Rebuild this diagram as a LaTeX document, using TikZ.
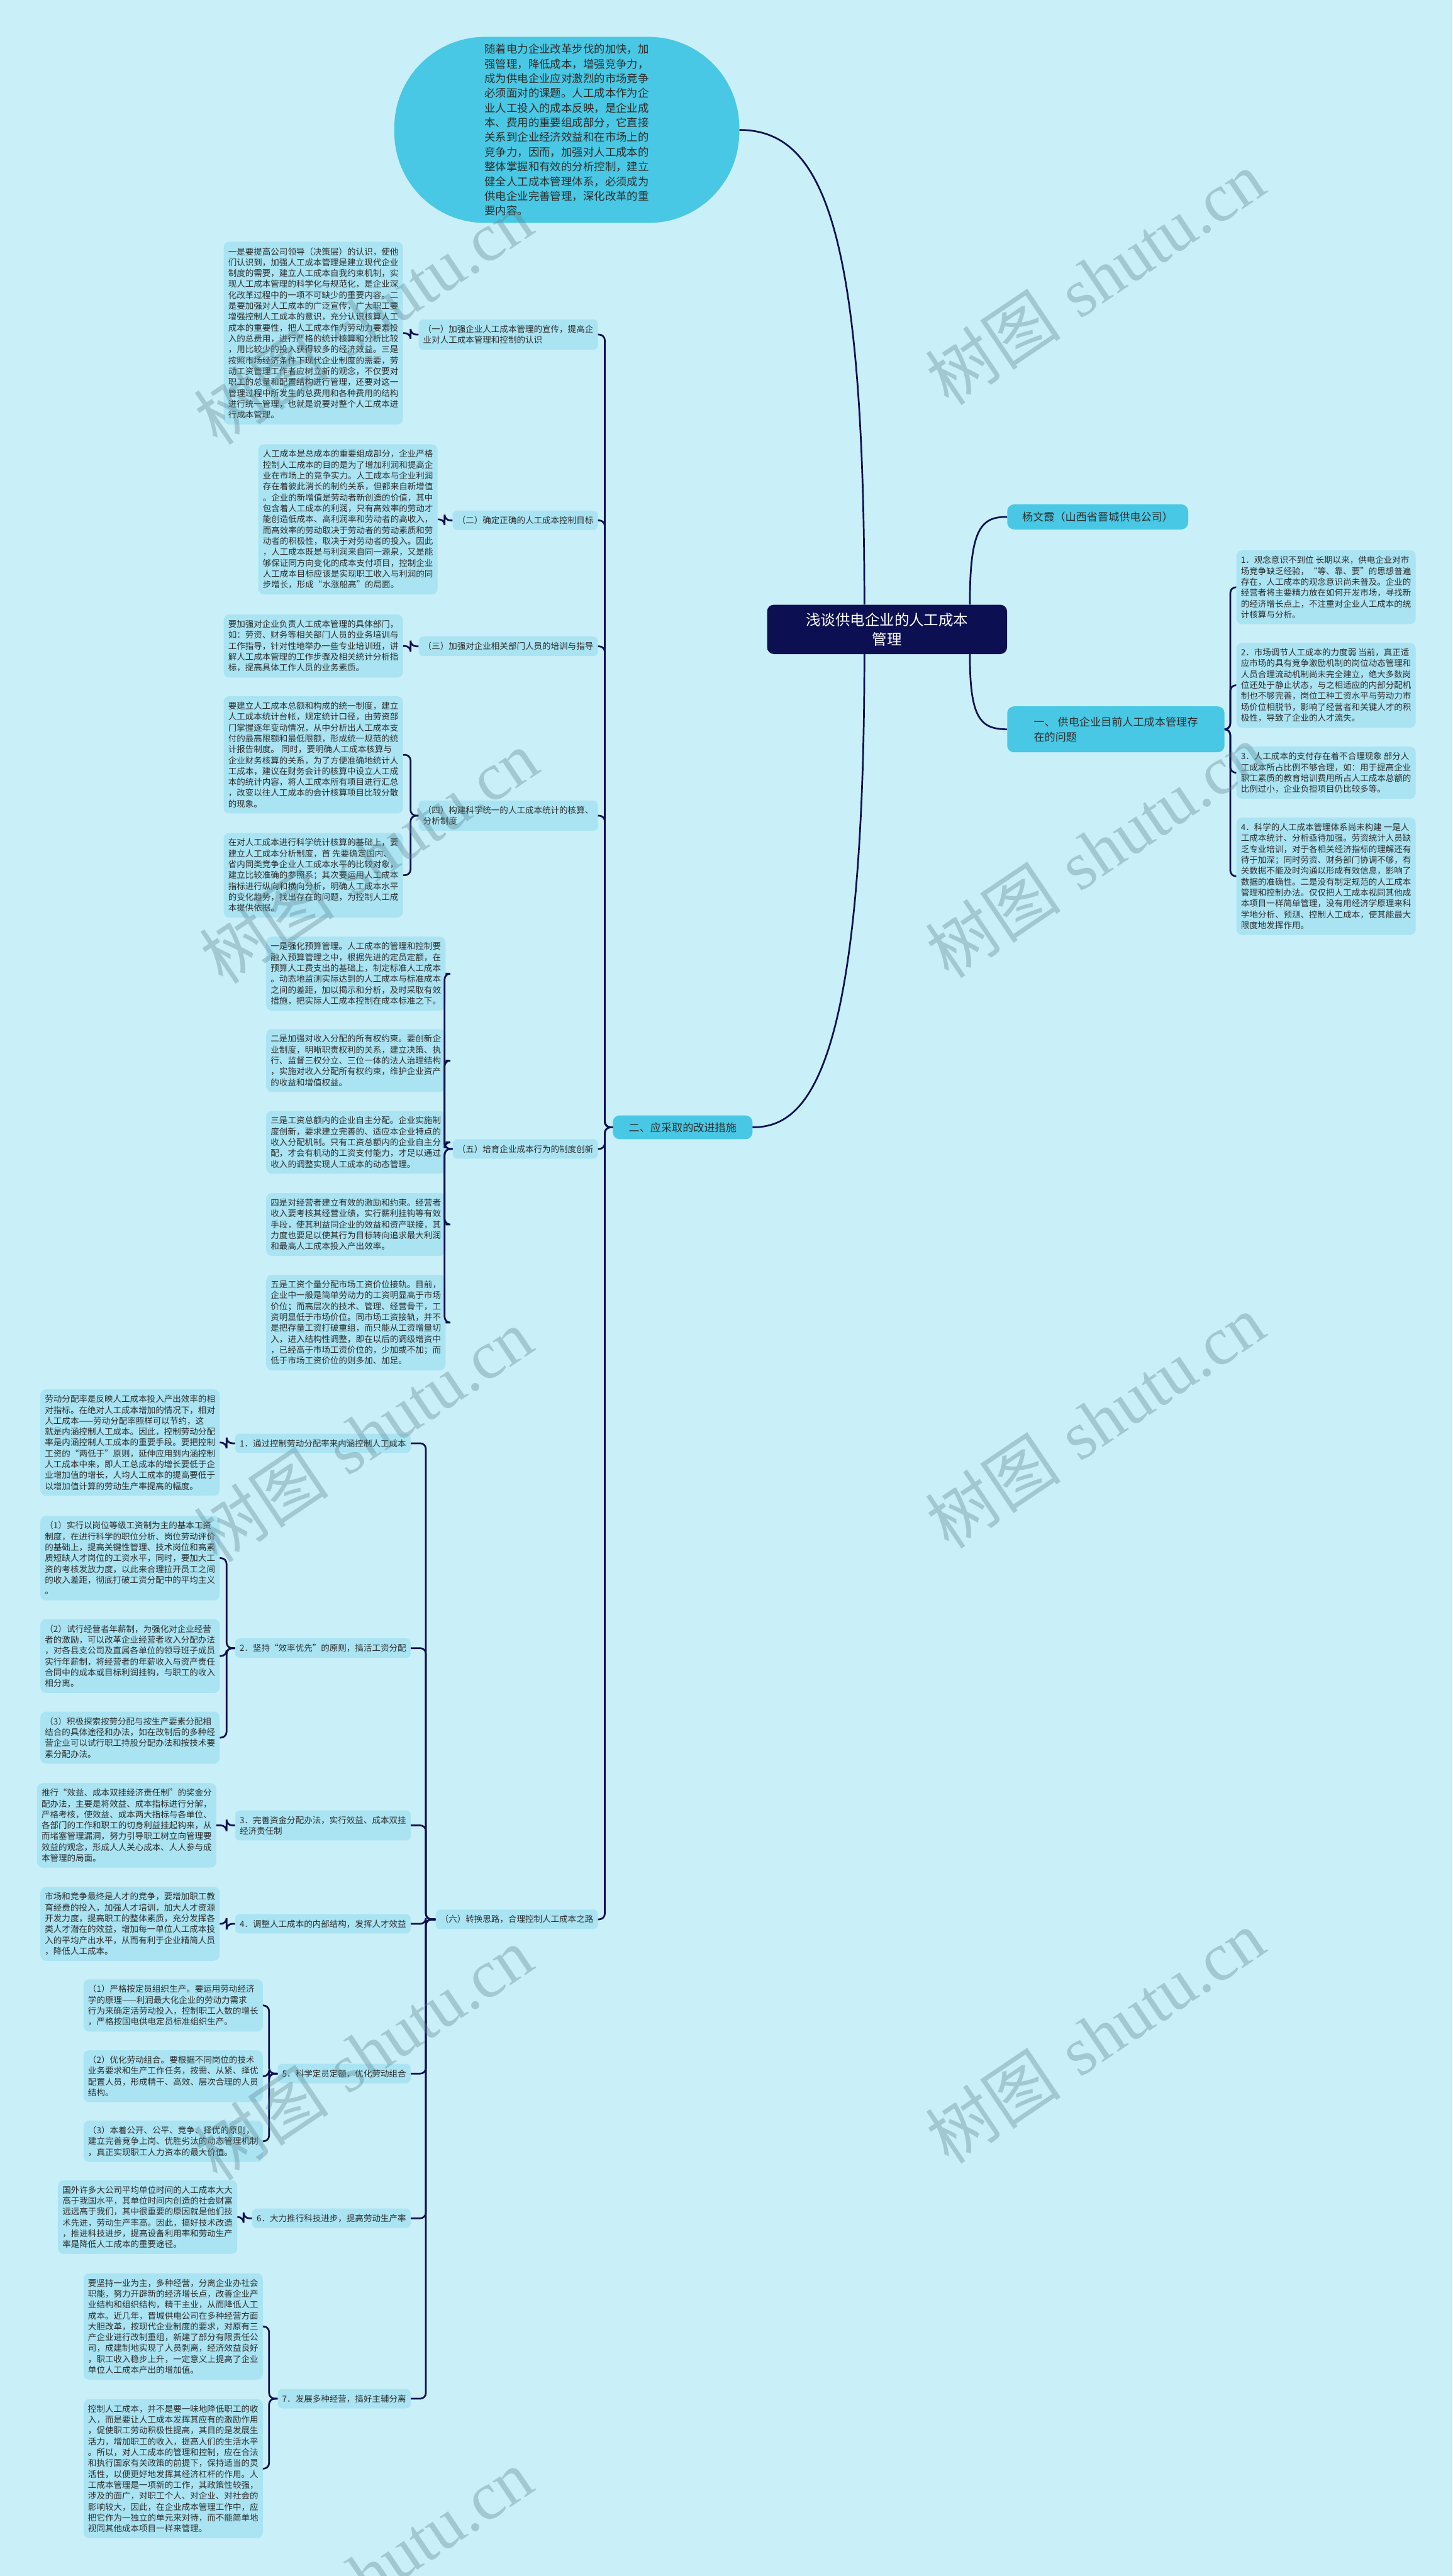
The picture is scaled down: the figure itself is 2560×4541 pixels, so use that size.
\documentclass[tikz,border=0pt]{standalone}
\usepackage{fontspec}
\newfontfamily\cjk{Noto Sans CJK SC}
\newfontfamily\wmserif{Liberation Serif}
\usetikzlibrary{calc}
\definecolor{bgc}{RGB}{201,239,248}
\definecolor{leafc}{RGB}{170,228,243}
\definecolor{cyanc}{RGB}{72,200,228}
\definecolor{navy}{RGB}{12,16,82}
\definecolor{txt}{RGB}{45,45,45}
\definecolor{wmc}{RGB}{90,130,140}
\begin{document}
\begin{tikzpicture}[x=1pt,y=-1pt,
 leaf/.style={fill=leafc, rounded corners=10pt, inner xsep=8pt, inner ysep=10pt, align=left, anchor=north west, font=\cjk\fontsize{15}{19.2}\selectfont, text=txt, minimum width=316pt},
 lab/.style={fill=leafc, rounded corners=8pt, inner xsep=8pt, inner ysep=10pt, align=left, anchor=north east, font=\cjk\fontsize{15}{19.2}\selectfont, text=txt},
 main/.style={fill=cyanc, rounded corners=12pt, inner xsep=14pt, inner ysep=12pt, align=left, font=\cjk\fontsize{19}{26}\selectfont, text=txt},
 conn/.style={draw=navy, line width=3pt, rounded corners=10pt},
 curve/.style={draw=navy, line width=3pt},
 wm/.style={text=wmc, opacity=0.35, rotate=34, font=\fontsize{120}{130}\selectfont}
]
\fill[bgc] (0,0) rectangle (2560,4541);
\useasboundingbox (0,0) rectangle (2560,4541);

% root and first level
\node[fill=navy, rounded corners=12pt, minimum width=423pt, minimum height=87pt, align=center, text=white, font=\cjk\fontsize{26}{34}\selectfont] (root) at (1563.5,1109.5) {浅谈供电企业的人工成本\\管理};

\node[fill=cyanc, rounded corners=160pt, minimum width=608pt, minimum height=328pt, align=left, text=txt, font=\cjk\fontsize{19.3}{25.9}\selectfont] (intro) at (999,229) {随着电力企业改革步伐的加快，加\\强管理，降低成本，增强竞争力，\\成为供电企业应对激烈的市场竞争\\必须面对的课题。人工成本作为企\\业人工投入的成本反映，是企业成\\本、费用的重要组成部分，它直接\\关系到企业经济效益和在市场上的\\竞争力，因而，加强对人工成本的\\整体掌握和有效的分析控制，建立\\健全人工成本管理体系，必须成为\\供电企业完善管理，深化改革的重\\要内容。};

\node[main, anchor=north west, minimum width=319pt, minimum height=44pt] (yang) at (1775,889) {杨文霞（山西省晋城供电公司）};
\node[main, anchor=north west, minimum width=383pt, minimum height=81pt] (yi) at (1775,1245) {一、 供电企业目前人工成本管理存\\在的问题};
\node[main, anchor=north west, minimum width=246pt, minimum height=42pt] (er) at (1080,1966) {二、应采取的改进措施};

\draw[curve] ($(root.north)+(-40,0)$) .. controls (1523,400) and (1450,229) .. (intro.east);
\draw[curve] ($(root.north)+(146,0)$) .. controls (1709,930) and (1730,911) .. (yang.west);
\draw[curve] ($(root.south)+(146,0)$) .. controls (1709,1270) and (1730,1285) .. (yi.west);
\draw[curve] ($(root.south)+(-40,0)$) .. controls (1523,1900) and (1420,1987) .. (er.east);

% right side leaves
\node[leaf] (R1) at (2179,970) {1．观念意识不到位 长期以来，供电企业对市\\场竞争缺乏经验，“等、靠、要”的思想普遍\\存在，人工成本的观念意识尚未普及。企业的\\经营者将主要精力放在如何开发市场，寻找新\\的经济增长点上，不注重对企业人工成本的统\\计核算与分析。};
\node[leaf] (R2) at (2179,1133) {2．市场调节人工成本的力度弱 当前，真正适\\应市场的具有竞争激励机制的岗位动态管理和\\人员合理流动机制尚未完全建立，绝大多数岗\\位还处于静止状态，与之相适应的内部分配机\\制也不够完善，岗位工种工资水平与劳动力市\\场价位相脱节，影响了经营者和关键人才的积\\极性，导致了企业的人才流失。};
\node[leaf] (R3) at (2179,1316) {3．人工成本的支付存在着不合理现象 部分人\\工成本所占比例不够合理，如：用于提高企业\\职工素质的教育培训费用所占人工成本总额的\\比例过小，企业负担项目仍比较多等。};
\node[leaf] (R4) at (2179,1441) {4．科学的人工成本管理体系尚未构建 一是人\\工成本统计、分析亟待加强。劳资统计人员缺\\乏专业培训，对于各相关经济指标的理解还有\\待于加深；同时劳资、财务部门协调不够，有\\关数据不能及时沟通以形成有效信息，影响了\\数据的准确性。二是没有制定规范的人工成本\\管理和控制办法。仅仅把人工成本视同其他成\\本项目一样简单管理，没有用经济学原理来科\\学地分析、预测、控制人工成本，使其能最大\\限度地发挥作用。};
\foreach \r in {R1,R2,R3,R4} \draw[conn] (yi.east) -- ++(10,0) |- (\r.west);

% second-level labels of 二
\node[lab] (p1) at (1054,563) {（一）加强企业人工成本管理的宣传，提高企\\业对人工成本管理和控制的认识};
\node[lab] (p2) at (1054,900) {（二）确定正确的人工成本控制目标};
\node[lab] (p3) at (1054,1122) {（三）加强对企业相关部门人员的培训与指导};
\node[lab] (p4) at (1054,1411) {（四）构建科学统一的人工成本统计的核算、\\分析制度};
\node[lab] (p5) at (1054,2008) {（五）培育企业成本行为的制度创新};
\node[lab] (p6) at (1054,3366) {（六）转换思路，合理控制人工成本之路};
\foreach \p in {p1,p2,p3,p4,p5,p6} \draw[conn] (er.west) -- ++(-14,0) |- (\p.east);

% leaves of (一)-(五)
\node[leaf] (L1) at (394,426) {一是要提高公司领导（决策层）的认识，使他\\们认识到，加强人工成本管理是建立现代企业\\制度的需要，建立人工成本自我约束机制，实\\现人工成本管理的科学化与规范化，是企业深\\化改革过程中的一项不可缺少的重要内容。二\\是要加强对人工成本的广泛宣传，广大职工要\\增强控制人工成本的意识，充分认识核算人工\\成本的重要性，把人工成本作为劳动力要素投\\入的总费用，进行严格的统计核算和分析比较\\，用比较少的投入获得较多的经济效益。三是\\按照市场经济条件下现代企业制度的需要，劳\\动工资管理工作者应树立新的观念，不仅要对\\职工的总量和配置结构进行管理，还要对这一\\管理过程中所发生的总费用和各种费用的结构\\进行统一管理，也就是说要对整个人工成本进\\行成本管理。};
\node[leaf] (L2) at (455,783) {人工成本是总成本的重要组成部分，企业严格\\控制人工成本的目的是为了增加利润和提高企\\业在市场上的竞争实力。人工成本与企业利润\\存在着彼此消长的制约关系，但都来自新增值\\。企业的新增值是劳动者新创造的价值，其中\\包含着人工成本的利润，只有高效率的劳动才\\能创造低成本、高利润率和劳动者的高收入，\\而高效率的劳动取决于劳动者的劳动素质和劳\\动者的积极性，取决于对劳动者的投入。因此\\，人工成本既是与利润来自同一源泉，又是能\\够保证同方向变化的成本支付项目，控制企业\\人工成本目标应该是实现职工收入与利润的同\\步增长，形成“水涨船高”的局面。};
\node[leaf] (L3) at (394,1083) {要加强对企业负责人工成本管理的具体部门，\\如：劳资、财务等相关部门人员的业务培训与\\工作指导，针对性地举办一些专业培训班，讲\\解人工成本管理的工作步骤及相关统计分析指\\标，提高具体工作人员的业务素质。};
\node[leaf] (L4a) at (394,1227) {要建立人工成本总额和构成的统一制度，建立\\人工成本统计台帐，规定统计口径，由劳资部\\门掌握逐年变动情况，从中分析出人工成本支\\付的最高限额和最低限额，形成统一规范的统\\计报告制度。 同时，要明确人工成本核算与\\企业财务核算的关系，为了方便准确地统计人\\工成本，建议在财务会计的核算中设立人工成\\本的统计内容，将人工成本所有项目进行汇总\\，改变以往人工成本的会计核算项目比较分散\\的现象。};
\node[leaf] (L4b) at (394,1468) {在对人工成本进行科学统计核算的基础上，要\\建立人工成本分析制度，首 先要确定国内、\\省内同类竞争企业人工成本水平的比较对象，\\建立比较准确的参照系；其次要运用人工成本\\指标进行纵向和横向分析，明确人工成本水平\\的变化趋势，找出存在的问题，为控制人工成\\本提供依据。};
\node[leaf] (L5a) at (469,1651) {一是强化预算管理。人工成本的管理和控制要\\融入预算管理之中，根据先进的定员定额，在\\预算人工费支出的基础上，制定标准人工成本\\。动态地监测实际达到的人工成本与标准成本\\之间的差距，加以揭示和分析，及时采取有效\\措施，把实际人工成本控制在成本标准之下。};
\node[leaf] (L5b) at (469,1814) {二是加强对收入分配的所有权约束。要创新企\\业制度，明晰职责权利的关系，建立决策、执\\行、监督三权分立、三位一体的法人治理结构\\，实施对收入分配所有权约束，维护企业资产\\的收益和增值权益。};
\node[leaf] (L5c) at (469,1958) {三是工资总额内的企业自主分配。企业实施制\\度创新，要求建立完善的、适应本企业特点的\\收入分配机制。只有工资总额内的企业自主分\\配，才会有机动的工资支付能力，才足以通过\\收入的调整实现人工成本的动态管理。};
\node[leaf] (L5d) at (469,2103) {四是对经营者建立有效的激励和约束。经营者\\收入要考核其经营业绩，实行薪利挂钩等有效\\手段，使其利益同企业的效益和资产联接，其\\力度也要足以使其行为目标转向追求最大利润\\和最高人工成本投入产出效率。};
\node[leaf] (L5e) at (469,2247) {五是工资个量分配市场工资价位接轨。目前，\\企业中一般是简单劳动力的工资明显高于市场\\价位；而高层次的技术、管理、经营骨干，工\\资明显低于市场价位。同市场工资接轨，并不\\是把存量工资打破重组，而只能从工资增量切\\入，进入结构性调整，即在以后的调级增资中\\，已经高于市场工资价位的，少加或不加；而\\低于市场工资价位的则多加、加足。};

\draw[conn] (p1.west) -- ++(-14,0) |- (L1.east);
\draw[conn] (p2.west) -- ++(-14,0) |- (L2.east);
\draw[conn] (p3.west) -- ++(-14,0) |- (L3.east);
\foreach \c in {L4a,L4b} \draw[conn] (p4.west) -- ++(-14,0) |- (\c.east);
\foreach \c in {L5a,L5b,L5c,L5d,L5e} \draw[conn] (p5.west) -- ++(-14,0) |- (\c.east);

% (六) children
\node[lab] (c1) at (724,2527) {1．通过控制劳动分配率来内涵控制人工成本};
\node[lab] (c2) at (724,2888) {2．坚持“效率优先”的原则，搞活工资分配};
\node[lab] (c3) at (724,3191) {3．完善资金分配办法，实行效益、成本双挂\\经济责任制};
\node[lab] (c4) at (724,3374) {4．调整人工成本的内部结构，发挥人才效益};
\node[lab] (c5) at (724,3638) {5．科学定员定额，优化劳动组合};
\node[lab] (c6) at (724,3893) {6．大力推行科技进步，提高劳动生产率};
\node[lab] (c7) at (724,4211) {7．发展多种经营，搞好主辅分离};
\foreach \c in {c1,c2,c3,c4,c5,c6,c7} \draw[conn] (p6.west) -- ++(-17,0) |- (\c.east);

\node[leaf] (M1) at (71,2449) {劳动分配率是反映人工成本投入产出效率的相\\对指标。在绝对人工成本增加的情况下，相对\\人工成本——劳动分配率照样可以节约，这\\就是内涵控制人工成本。因此，控制劳动分配\\率是内涵控制人工成本的重要手段。要把控制\\工资的“两低于”原则，延伸应用到内涵控制\\人工成本中来，即人工总成本的增长要低于企\\业增加值的增长，人均人工成本的提高要低于\\以增加值计算的劳动生产率提高的幅度。};
\node[leaf] (M2a) at (71,2672) {（1）实行以岗位等级工资制为主的基本工资\\制度，在进行科学的职位分析、岗位劳动评价\\的基础上，提高关键性管理、技术岗位和高素\\质短缺人才岗位的工资水平，同时，要加大工\\资的考核发放力度，以此来合理拉开员工之间\\的收入差距，彻底打破工资分配中的平均主义\\。};
\node[leaf] (M2b) at (71,2854) {（2）试行经营者年薪制，为强化对企业经营\\者的激励，可以改革企业经营者收入分配办法\\，对各县支公司及直属各单位的领导班子成员\\实行年薪制，将经营者的年薪收入与资产责任\\合同中的成本或目标利润挂钩，与职工的收入\\相分离。};
\node[leaf] (M2c) at (71,3017) {（3）积极探索按劳分配与按生产要素分配相\\结合的具体途径和办法，如在改制后的多种经\\营企业可以试行职工持股分配办法和按技术要\\素分配办法。};
\node[leaf] (M3) at (65,3143) {推行“效益、成本双挂经济责任制”的奖金分\\配办法，主要是将效益、成本指标进行分解，\\严格考核，使效益、成本两大指标与各单位、\\各部门的工作和职工的切身利益挂起钩来，从\\而堵塞管理漏洞，努力引导职工树立向管理要\\效益的观念，形成人人关心成本、人人参与成\\本管理的局面。};
\node[leaf] (M4) at (71,3326) {市场和竞争最终是人才的竞争，要增加职工教\\育经费的投入，加强人才培训，加大人才资源\\开发力度，提高职工的整体素质，充分发挥各\\类人才潜在的效益，增加每一单位人工成本投\\入的平均产出水平，从而有利于企业精简人员\\，降低人工成本。};
\node[leaf] (M5a) at (147,3489) {（1）严格按定员组织生产。要运用劳动经济\\学的原理——利润最大化企业的劳动力需求\\行为来确定活劳动投入，控制职工人数的增长\\，严格按国电供电定员标准组织生产。};
\node[leaf] (M5b) at (147,3614) {（2）优化劳动组合。要根据不同岗位的技术\\业务要求和生产工作任务，按需、从紧、择优\\配置人员，形成精干、高效、层次合理的人员\\结构。};
\node[leaf] (M5c) at (147,3738) {（3）本着公开、公平、竞争、择优的原则，\\建立完善竞争上岗、优胜劣汰的动态管理机制\\，真正实现职工人力资本的最大价值。};
\node[leaf] (M6) at (102,3843) {国外许多大公司平均单位时间的人工成本大大\\高于我国水平，其单位时间内创造的社会财富\\远远高于我们，其中很重要的原因就是他们技\\术先进，劳动生产率高。因此，搞好技术改造\\，推进科技进步，提高设备利用率和劳动生产\\率是降低人工成本的重要途径。};
\node[leaf] (M7a) at (147,4007) {要坚持一业为主，多种经营，分离企业办社会\\职能，努力开辟新的经济增长点，改善企业产\\业结构和组织结构，精干主业，从而降低人工\\成本。近几年，晋城供电公司在多种经营方面\\大胆改革，按现代企业制度的要求，对原有三\\产企业进行改制重组，新建了部分有限责任公\\司，成建制地实现了人员剥离，经济效益良好\\，职工收入稳步上升，一定意义上提高了企业\\单位人工成本产出的增加值。};
\node[leaf] (M7b) at (147,4229) {控制人工成本，并不是要一味地降低职工的收\\入，而是要让人工成本发挥其应有的激励作用\\，促使职工劳动积极性提高，其目的是发展生\\活力，增加职工的收入，提高人们的生活水平\\。所以，对人工成本的管理和控制，应在合法\\和执行国家有关政策的前提下，保持适当的灵\\活性，以便更好地发挥其经济杠杆的作用。人\\工成本管理是一项新的工作，其政策性较强，\\涉及的面广，对职工个人、对企业、对社会的\\影响较大，因此，在企业成本管理工作中，应\\把它作为一独立的单元来对待，而不能简单地\\视同其他成本项目一样来管理。};

\draw[conn] (c1.west) -- ++(-15,0) |- (M1.east);
\foreach \m in {M2a,M2b,M2c} \draw[conn] (c2.west) -- ++(-15,0) |- (\m.east);
\draw[conn] (c3.west) -- ++(-15,0) |- (M3.east);
\draw[conn] (c4.west) -- ++(-15,0) |- (M4.east);
\foreach \m in {M5a,M5b,M5c} \draw[conn] (c5.west) -- ++(-15,0) |- (\m.east);
\draw[conn] (c6.west) -- ++(-15,0) |- (M6.east);
\foreach \m in {M7a,M7b} \draw[conn] (c7.west) -- ++(-15,0) |- (\m.east);

% watermarks
\foreach \wx/\wy in {640/560, 650/1510, 640/2530, 640/3620, 640/4540, 1930/490, 1930/1500, 1930/2505, 1930/3590}
  \node[wm] at (\wx,\wy) {{\cjk 树图} {\wmserif shutu.cn}};
\end{tikzpicture}
\end{document}
